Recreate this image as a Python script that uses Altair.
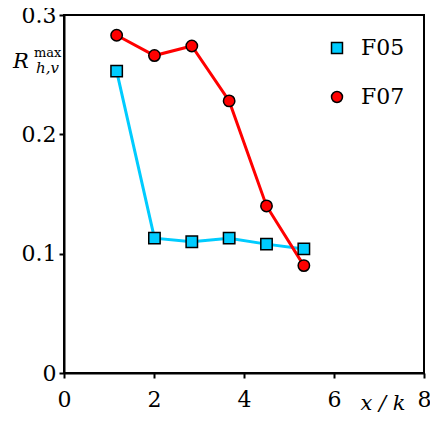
import altair as alt
import pandas as pd

series = ["F05"] * 6 + ["F07"] * 6
x_vals = [1.17, 2.01, 2.84, 3.67, 4.50, 5.33,
          1.17, 2.01, 2.84, 3.67, 4.50, 5.33]
y_vals = [0.253, 0.113, 0.110, 0.113, 0.108, 0.104,
          0.283, 0.266, 0.274, 0.228, 0.140, 0.090]
x_ticks = [0, 2, 4, 6, 8]
y_ticks = [0, 0.1, 0.2, 0.3]
title_main = "R"
title_sup = "max"
title_sub = "h,v"
x_title = "x / k"

FONT = "DejaVu Serif"
BLUE = "#00CCFF"
RED = "#FF0000"
df = pd.DataFrame({"series": series, "x": x_vals, "y": y_vals})

xs = alt.Scale(domain=[0, 8], nice=False)
ys = alt.Scale(domain=[0, 0.3], nice=False)
col = alt.Scale(domain=["F05", "F07"], range=[BLUE, RED])
edge = alt.Scale(domain=["F05", "F07"], range=["black", "black"])
shp = alt.Scale(domain=["F05", "F07"], range=["square", "circle"])

leg = alt.Legend(title=None, orient="none", legendX=262, legendY=22,
                 labelFont=FONT, labelFontSize=22, labelColor="black",
                 symbolSize=120, symbolStrokeColor="black",
                 symbolStrokeWidth=1.5, labelOffset=13,
                 rowPadding=27, padding=0, symbolOpacity=1)

xax = alt.Axis(values=x_ticks, grid=False, tickSize=5, labelFlush=False,
               labelFont=FONT, labelFontSize=22, labelPadding=11,
               title=x_title, titleFont=FONT, titleFontStyle="italic",
               titleFontWeight="normal", titleFontSize=21,
               titleX=296, titleY=36, titleAlign="left",
               titleBaseline="alphabetic")
yax = alt.Axis(values=y_ticks, grid=False, tickSize=5,
               labelFont=FONT, labelFontSize=22, labelPadding=3,
               labelExpr="datum.value == 0 ? '0' : format(datum.value, '.1f')",
               title=None)

base = alt.Chart(df)
lines = base.mark_line(strokeWidth=3).encode(
    x=alt.X("x:Q", scale=xs, axis=xax),
    y=alt.Y("y:Q", scale=ys, axis=yax),
    stroke=alt.condition("datum.series == 'F05'", alt.value(BLUE), alt.value(RED)),
    detail="series:N",
)
points = base.mark_point(filled=True, stroke="black", strokeWidth=1.5,
                         opacity=1, size=130).encode(
    x="x:Q",
    y="y:Q",
    fill=alt.Fill("series:N", scale=col, legend=leg),
    shape=alt.Shape("series:N", scale=shp, legend=leg),
    stroke=alt.Stroke("series:N", scale=edge, legend=leg),
)

tdf = pd.DataFrame({"a": [0]})
t_main = alt.Chart(tdf).mark_text(text=title_main, font=FONT, fontSize=21,
                                  fontStyle="italic", align="left",
                                  baseline="alphabetic").encode(
    x=alt.value(-51), y=alt.value(53))
t_sup = alt.Chart(tdf).mark_text(text=title_sup, font=FONT, fontSize=13,
                                 align="left", baseline="alphabetic").encode(
    x=alt.value(-30), y=alt.value(42))
t_sub = alt.Chart(tdf).mark_text(text=title_sub, font=FONT, fontSize=15,
                                 fontStyle="italic", align="left",
                                 baseline="alphabetic").encode(
    x=alt.value(-28), y=alt.value(58))

chart = alt.layer(lines, points, t_main, t_sup, t_sub).properties(
    width=360, height=358,
    autosize=alt.AutoSizeParams(type="none"),
    padding={"left": 56, "top": 7, "right": 6, "bottom": 40},
).configure_view(stroke="black", strokeWidth=2).configure_axis(
    domainColor="black", domainWidth=2, tickColor="black", tickWidth=2,
    labelColor="black")

chart.save("out.html", embed_options={"renderer": "svg", "actions": False})
